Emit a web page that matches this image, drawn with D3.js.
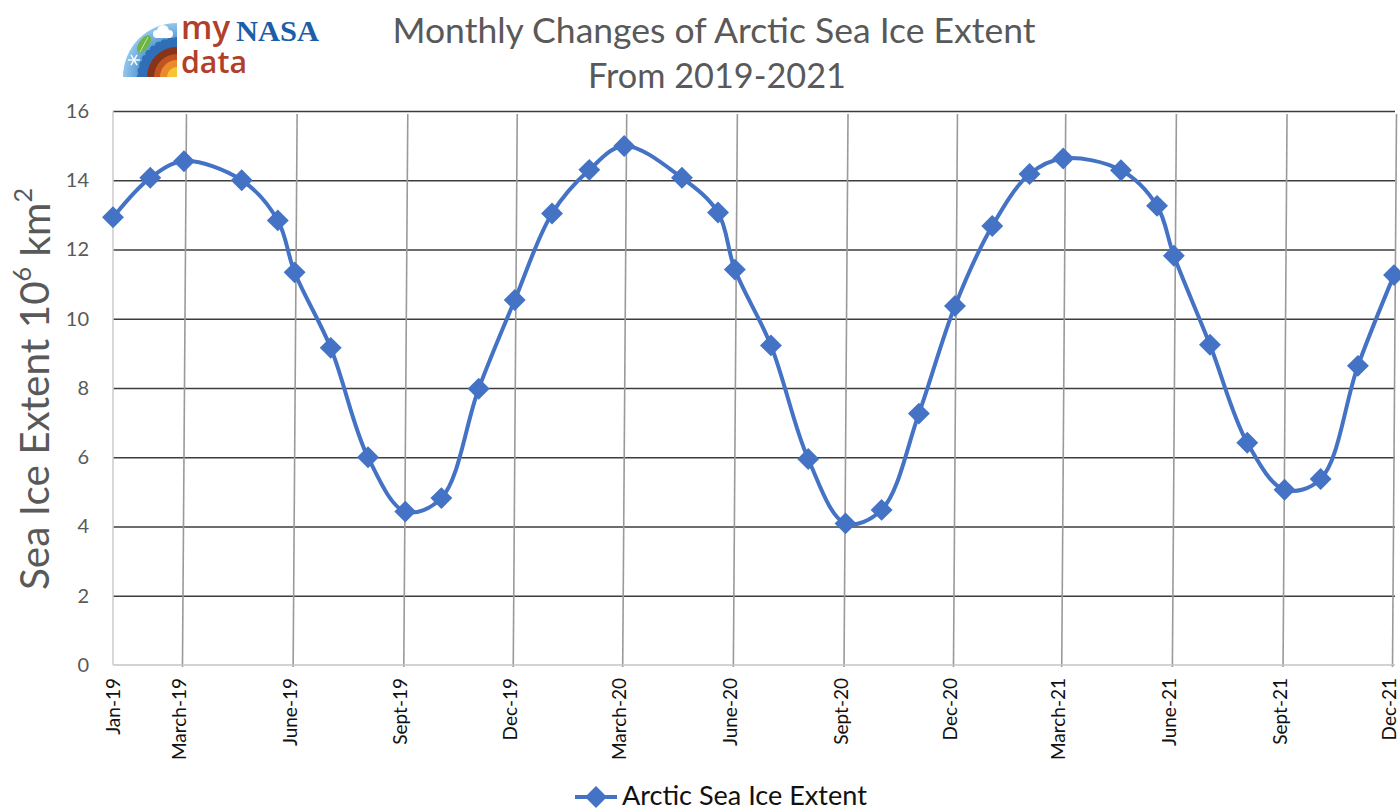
<!DOCTYPE html>
<html>
<head>
<meta charset="utf-8">
<title>Monthly Changes of Arctic Sea Ice Extent</title>
<script src="https://cdn.jsdelivr.net/npm/d3@7"></script>
<style>
  html, body { margin: 0; padding: 0; background: #ffffff; }
  svg { display: block; }
</style>
</head>
<body>
<svg id="chart" width="1400" height="810"></svg>
<script>
// Sample dates (mostly the 1st of each month; April and May samples fall mid-month)
const sampleDates = [
  "2019-01-01","2019-02-01","2019-03-01","2019-04-18","2019-05-18","2019-06-01",
  "2019-07-01","2019-08-01","2019-09-01","2019-10-01","2019-11-01","2019-12-01",
  "2020-01-01","2020-02-01","2020-03-01","2020-04-18","2020-05-18","2020-06-01",
  "2020-07-01","2020-08-01","2020-09-01","2020-10-01","2020-11-01","2020-12-01",
  "2021-01-01","2021-02-01","2021-03-01","2021-04-18","2021-05-18","2021-06-01",
  "2021-07-01","2021-08-01","2021-09-01","2021-10-01","2021-11-01","2021-12-01"
];

// Arctic sea ice extent, millions of km²
const extentValues = [
  12.93, 14.07, 14.55, 14.00, 12.84, 11.34, 9.16, 6.00, 4.43, 4.82, 7.98, 10.54,
  13.04, 14.30, 14.99, 14.07, 13.07, 11.42, 9.23, 5.95, 4.09, 4.48, 7.26, 10.37,
  12.68, 14.18, 14.63, 14.29, 13.26, 11.82, 9.25, 6.42, 5.06, 5.37, 8.64, 11.26
];

// Axis ticks
const tickDates = [
  "2019-01-01","2019-03-01","2019-06-01","2019-09-01","2019-12-01",
  "2020-03-01","2020-06-01","2020-09-01","2020-12-01",
  "2021-03-01","2021-06-01","2021-09-01","2021-12-01"
];
const tickLabels = [
  "Jan-19","March-19","June-19","Sept-19","Dec-19",
  "March-20","June-20","Sept-20","Dec-20",
  "March-21","June-21","Sept-21","Dec-21"
];
const yTickValues = [0, 2, 4, 6, 8, 10, 12, 14, 16];

const seriesName = "Arctic Sea Ice Extent";
const titleLines = ["Monthly Changes of Arctic Sea Ice Extent", "From 2019-2021"];

const parse = d3.utcParse("%Y-%m-%d");
const points = sampleDates.map((d, i) => ({ date: parse(d), value: extentValues[i] }));
const ticks = tickDates.map((d, i) => ({ date: parse(d), label: tickLabels[i] }));

const svg = d3.select("#chart");
const FONT = "Lato, 'Open Sans', sans-serif";
const BLUE = "#4472C4";

const plot = { left: 113, right: 1394, top: 111, bottom: 665 };

const x = d3.scaleUtc()
  .domain([parse(tickDates[0]), parse(tickDates[tickDates.length - 1])])
  .range([plot.left, plot.right]);
const y = d3.scaleLinear().domain([0, 16]).range([plot.bottom, plot.top]);

// scale a text's font size so its rendered length equals a target width
function fitWidth(sel, target) {
  const len = sel.node().getComputedTextLength();
  const fs = parseFloat(sel.attr("font-size"));
  if (len > 0) sel.attr("font-size", (fs * target / len).toFixed(2));
  return sel;
}

// ---- Title ----
const title = svg.append("g").attr("font-family", FONT).attr("fill", "#595959")
  .attr("text-anchor", "middle");
fitWidth(title.append("text").attr("x", 714).attr("y", 43).attr("font-size", 33).text(titleLines[0]), 643);
fitWidth(title.append("text").attr("x", 717).attr("y", 88).attr("font-size", 33).text(titleLines[1]), 258);

// ---- Horizontal gridlines (y axis) ----
const yAxis = d3.axisLeft(y).tickValues(yTickValues).tickSize(-(plot.right + 1 - plot.left)).tickPadding(24);
const gy = svg.append("g").attr("transform", `translate(${plot.left},0)`).call(yAxis);
gy.select(".domain").remove();
gy.selectAll(".tick line")
  .attr("stroke", d => d === 0 ? "none" : "#3d3d3d")
  .attr("stroke-width", 1.6);
gy.selectAll(".tick text")
  .attr("font-family", FONT).attr("font-size", 20).attr("fill", "#595959");

// ---- Vertical gridlines at the labelled dates ----
const xAxis = d3.axisBottom(x).tickValues(ticks.map(t => t.date))
  .tickFormat((d, i) => tickLabels[i]).tickSize(0).tickPadding(0);
const gx = svg.append("g").attr("transform", `translate(0,${plot.bottom})`).call(xAxis);
gx.select(".domain").remove();
gx.selectAll(".tick").each(function (d, i) {
  if (i === 0) return;
  d3.select(this).insert("line", "text")
    .attr("x1", 2).attr("y1", y(16) + 3 - plot.bottom)
    .attr("x2", -2).attr("y2", 2)
    .attr("stroke", "#9a9a9a").attr("stroke-width", 1.6);
});
gx.selectAll(".tick text")
  .attr("font-family", FONT).attr("font-size", 19).attr("fill", "#111111")
  .attr("text-anchor", "end")
  .attr("transform", "rotate(-90)")
  .attr("x", -13).attr("y", (d, i) => i === 0 ? 0 : -5).attr("dy", "0.35em");

// axis lines
svg.append("line").attr("x1", plot.left).attr("x2", plot.right + 1)
  .attr("y1", plot.bottom).attr("y2", plot.bottom)
  .attr("stroke", "#c4c4c4").attr("stroke-width", 1.6);
svg.append("line").attr("x1", plot.left).attr("x2", plot.left)
  .attr("y1", plot.top).attr("y2", plot.bottom)
  .attr("stroke", "#cfcfcf").attr("stroke-width", 1.6);

// ---- Y axis title ----
const yTitle = svg.append("text")
  .attr("transform", `translate(49,${389}) rotate(-90)`)
  .attr("text-anchor", "middle")
  .attr("font-family", FONT).attr("font-size", 36).attr("fill", "#595959");
yTitle.append("tspan").text("Sea Ice Extent 10");
yTitle.append("tspan").attr("font-size", "62%").attr("dy", "-0.7em").text("6");
yTitle.append("tspan").attr("dy", "0.45em").text(" km");
yTitle.append("tspan").attr("font-size", "62%").attr("dy", "-0.7em").text("2");
fitWidth(yTitle, 402);

// ---- Series ----
const line = d3.line()
  .x(d => x(d.date)).y(d => y(d.value))
  .curve(d3.curveCatmullRom.alpha(0.5));

svg.append("path").datum(points)
  .attr("d", line)
  .attr("fill", "none").attr("stroke", BLUE).attr("stroke-width", 4)
  .attr("stroke-linejoin", "round");

const diamond = d3.symbol(d3.symbolSquare).size(240);
svg.append("g").selectAll("path").data(points).join("path")
  .attr("d", diamond)
  .attr("transform", d => `translate(${x(d.date)},${y(d.value)}) rotate(45)`)
  .attr("fill", BLUE);

// ---- Legend ----
const legend = svg.append("g");
legend.append("line").attr("x1", 575).attr("x2", 617).attr("y1", 797).attr("y2", 797)
  .attr("stroke", BLUE).attr("stroke-width", 4);
legend.append("path").attr("d", diamond).attr("transform", "translate(596,797) rotate(45)")
  .attr("fill", BLUE);
fitWidth(legend.append("text").attr("x", 622).attr("y", 805)
  .attr("font-family", FONT).attr("font-size", 26).attr("fill", "#111").text(seriesName), 245);

// ---- my NASA data badge ----
const logo = svg.append("g");
const cx = 177, cy = 77, R = 54;
const defs = svg.append("defs");
defs.append("clipPath").attr("id", "quarter")
  .append("path").attr("d", `M${cx},${cy} L${cx - R},${cy} A${R},${R} 0 0 1 ${cx},${cy - R} Z`);
const sky = defs.append("radialGradient").attr("id", "sky")
  .attr("gradientUnits", "userSpaceOnUse").attr("cx", cx).attr("cy", cy).attr("r", R);
sky.append("stop").attr("offset", "0.65").attr("stop-color", "#4f93d2");
sky.append("stop").attr("offset", "1").attr("stop-color", "#92c7ec");

const q = logo.append("g").attr("clip-path", "url(#quarter)");
q.append("rect").attr("x", cx - R).attr("y", cy - R).attr("width", R).attr("height", R).attr("fill", "url(#sky)");
// scalloped cloud band
q.append("circle").attr("cx", cx).attr("cy", cy).attr("r", 35).attr("fill", "#2f6fb8");
d3.range(0, 91, 10).forEach(a => {
  const t = (180 + a) * Math.PI / 180;
  q.append("circle").attr("cx", cx + 36 * Math.cos(t)).attr("cy", cy + 36 * Math.sin(t))
    .attr("r", 4).attr("fill", "#2f6fb8");
});
[[30, "#86341a"], [23, "#c0531f"], [17, "#ec8a2b"], [10, "#f7c533"]].forEach(([r, c]) => {
  q.append("circle").attr("cx", cx).attr("cy", cy).attr("r", r).attr("fill", c);
});
// leaf
logo.append("ellipse").attr("cx", 0).attr("cy", 0).attr("rx", 5).attr("ry", 10)
  .attr("transform", "translate(144,44) rotate(35)").attr("fill", "#6db543");
logo.append("line").attr("x1", 140).attr("y1", 52).attr("x2", 148).attr("y2", 37)
  .attr("stroke", "#c5e6a8").attr("stroke-width", 1);
// cloud
const cloud = logo.append("g").attr("fill", "#ffffff");
[[157, 34, 4], [163, 31, 6], [169, 34, 4]].forEach(([a, b, r]) =>
  cloud.append("circle").attr("cx", a).attr("cy", b).attr("r", r));
cloud.append("rect").attr("x", 155).attr("y", 33).attr("width", 16).attr("height", 5).attr("rx", 2.5);
// snowflake
const flake = logo.append("g").attr("stroke", "#ffffff").attr("stroke-width", 1.4);
d3.range(0, 180, 60).forEach(a => {
  const t = a * Math.PI / 180;
  flake.append("line")
    .attr("x1", 134 - 6 * Math.cos(t)).attr("y1", 60 - 6 * Math.sin(t))
    .attr("x2", 134 + 6 * Math.cos(t)).attr("y2", 60 + 6 * Math.sin(t));
});
// wordmark
fitWidth(logo.append("text").attr("x", 181).attr("y", 39).attr("font-family", "'Open Sans', sans-serif")
  .attr("font-weight", 600).attr("font-size", 34).attr("fill", "#b23f27").text("my"), 49);
fitWidth(logo.append("text").attr("x", 236).attr("y", 41).attr("font-family", "'Liberation Serif', serif")
  .attr("font-weight", "bold").attr("font-size", 26).attr("fill", "#1d5ea8").text("NASA"), 83);
fitWidth(logo.append("text").attr("x", 181).attr("y", 73).attr("font-family", "'Open Sans', sans-serif")
  .attr("font-weight", 600).attr("font-size", 34).attr("fill", "#b23f27").text("data"), 66);
</script>
</body>
</html>
